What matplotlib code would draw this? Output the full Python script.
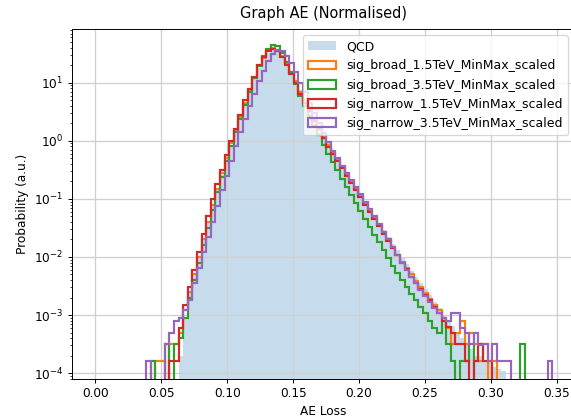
import numpy as np
import matplotlib
matplotlib.use("Agg")
from matplotlib import pyplot as plt

# common binning: 100 bins between 0 and 0.35, values listed from bin 10 on
edges = np.linspace(0, 0.35, 101)
first_bin = 10

qcd = [0, 0, 0, 0, 0, 0, 0, 0, 2e-4, 9e-4,
       2.5e-3, 5e-3, 0.01, 0.02, 0.038, 0.075, 0.14, 0.26, 0.47, 0.85,
       1.45, 2.5, 4.3, 7.2, 11.5, 18, 26, 33, 37, 36,
       30, 22, 15.5, 11, 7.5, 5.2, 3.6, 2.5, 1.75, 1.25,
       0.9, 0.66, 0.49, 0.37, 0.28, 0.21, 0.16, 0.12, 0.09, 0.068,
       0.051, 0.039, 0.029, 0.022, 0.017, 0.013, 0.0098, 0.0075, 0.0058, 0.0045,
       0.0035, 0.0028, 0.0022, 0.0017, 0.0013, 0.001, 8e-4, 6.5e-4, 5e-4, 4e-4,
       3.2e-4, 2.6e-4, 2e-4, 2e-4, 1.6e-4, 1.6e-4, 1.3e-4, 1.2e-4, 1.1e-4, 0,
       0, 0, 0, 0, 0, 0, 0, 0, 0, 0]

broad_15 = [0, 0, 0, 1.6e-4, 1.6e-4, 0, 3.2e-4, 3.2e-4, 5e-4, 1.2e-3,
            2.5e-3, 5e-3, 0.01, 0.02, 0.04, 0.08, 0.15, 0.28, 0.5, 0.9,
            1.5, 2.6, 4.5, 7.5, 12, 19, 27, 35, 39, 36,
            29, 21, 15, 10.5, 7, 5, 3.5, 2.4, 1.7, 1.2,
            0.85, 0.63, 0.47, 0.35, 0.26, 0.2, 0.15, 0.11, 0.083, 0.063,
            0.047, 0.035, 0.026, 0.02, 0.015, 0.011, 0.0083, 0.0065, 0.005, 0.0038,
            0.003, 0.0024, 0.0019, 0.0015, 0.0012, 9e-4, 6e-4, 3.2e-4, 5e-4, 8e-4,
            3.2e-4, 5e-4, 3.2e-4, 1.6e-4, 3.2e-4, 0, 1.6e-4, 0, 0, 0,
            0, 0, 0, 0, 0, 0, 0, 0, 0, 0]

broad_35 = [0, 0, 1.6e-4, 0, 0, 3.2e-4, 0, 3.2e-4, 4e-4, 9e-4,
            2e-3, 4e-3, 8e-3, 0.016, 0.032, 0.065, 0.13, 0.24, 0.45, 0.8,
            1.4, 2.4, 4.2, 7, 12, 19, 29, 38, 45, 42,
            33, 23, 15, 9.5, 6, 4, 2.7, 1.8, 1.25, 0.85,
            0.6, 0.43, 0.31, 0.22, 0.16, 0.115, 0.085, 0.062, 0.045, 0.033,
            0.024, 0.018, 0.013, 0.0095, 0.007, 0.0052, 0.004, 0.003, 0.0023, 0.0018,
            0.0014, 0.0011, 8e-4, 6e-4, 5e-4, 8e-4, 3.2e-4, 1.6e-4, 0, 1.6e-4,
            1.6e-4, 3.2e-4, 0, 0, 0, 0, 0, 0, 0, 0,
            0, 0, 3.2e-4, 0, 0, 0, 0, 0, 0, 0]

narrow_15 = [0, 0, 0, 0, 0, 0, 1.6e-4, 1.6e-4, 6e-4, 1.5e-3,
             3e-3, 6e-3, 0.012, 0.025, 0.05, 0.1, 0.18, 0.32, 0.56, 1.0,
             1.6, 2.8, 5.0, 7.9, 12.6, 20, 28, 35, 38, 35,
             28, 20, 14, 10, 6.3, 4.5, 3.2, 2.2, 1.6, 1.12,
             0.79, 0.6, 0.45, 0.34, 0.25, 0.19, 0.14, 0.107, 0.079, 0.06,
             0.045, 0.034, 0.025, 0.019, 0.014, 0.011, 0.0079, 0.0063, 0.0045, 0.0035,
             0.0028, 0.0022, 0.0018, 0.0014, 0.0011, 8e-4, 6.3e-4, 5e-4, 3.2e-4, 3.2e-4,
             1.6e-4, 0, 1.6e-4, 3.2e-4, 1.6e-4, 1.6e-4, 0, 0, 0, 0,
             0, 0, 0, 0, 0, 0, 0, 0, 0, 0]

narrow_35 = [0, 1.6e-4, 0, 0, 0, 3.2e-4, 5e-4, 8e-4, 9e-4, 1.2e-3,
             1.8e-3, 3.5e-3, 6.5e-3, 0.012, 0.022, 0.04, 0.075, 0.14, 0.25, 0.45,
             0.8, 1.4, 2.4, 4, 6.5, 10.5, 16, 24, 31, 36,
             35, 29, 22, 15, 10, 6.8, 4.5, 3, 2.0, 1.35,
             0.95, 0.68, 0.5, 0.37, 0.28, 0.21, 0.16, 0.12, 0.09, 0.067,
             0.05, 0.037, 0.027, 0.02, 0.015, 0.011, 0.008, 0.006, 0.0045, 0.0035,
             0.0027, 0.0021, 0.0017, 0.0013, 0.0011, 9e-4, 8e-4, 1.1e-3, 1.1e-3, 6e-4,
             5e-4, 3.2e-4, 5e-4, 3e-4, 3.2e-4, 1.6e-4, 3.2e-4, 1.6e-4, 1.6e-4, 1.6e-4,
             0, 0, 0, 0, 0, 0, 0, 0, 1.6e-4, 0]

signals = [("sig_broad_1.5TeV_MinMax_scaled", broad_15, "C1"),
           ("sig_broad_3.5TeV_MinMax_scaled", broad_35, "C2"),
           ("sig_narrow_1.5TeV_MinMax_scaled", narrow_15, "C3"),
           ("sig_narrow_3.5TeV_MinMax_scaled", narrow_35, "C4")]


def full(values):
    w = np.zeros(len(edges) - 1)
    w[first_bin:first_bin + len(values)] = values
    return w


centers = (edges[:-1] + edges[1:]) / 2

fig = plt.figure(figsize=(571 / 87, 419 / 87), dpi=87)
ax = fig.add_axes([72 / 571, 40 / 419, 502 / 571, 350 / 419])

ax.hist(centers, bins=edges, weights=full(qcd), histtype="stepfilled",
        alpha=0.25, color="C0", label="QCD")
for name, vals, color in signals:
    ax.hist(centers, bins=edges, weights=full(vals), histtype="step",
            linewidth=1.8, color=color, label=name)

ax.set_yscale("log")
ax.set_xlim(-0.0178, 0.363)
ax.set_ylim(10 ** -4.1, 10 ** 1.924)
ax.set_xticks(np.arange(0, 0.351, 0.05))
ax.grid(color="#d0d0d0", linewidth=1.1)
ax.set_xlabel("AE Loss")
ax.set_ylabel("Probability (a.u.)")
ax.set_title("Graph AE (Normalised)", pad=9)
ax.legend(loc="upper right", fontsize=10.3, handlelength=2.3)

fig.savefig("out.png", dpi=87)
